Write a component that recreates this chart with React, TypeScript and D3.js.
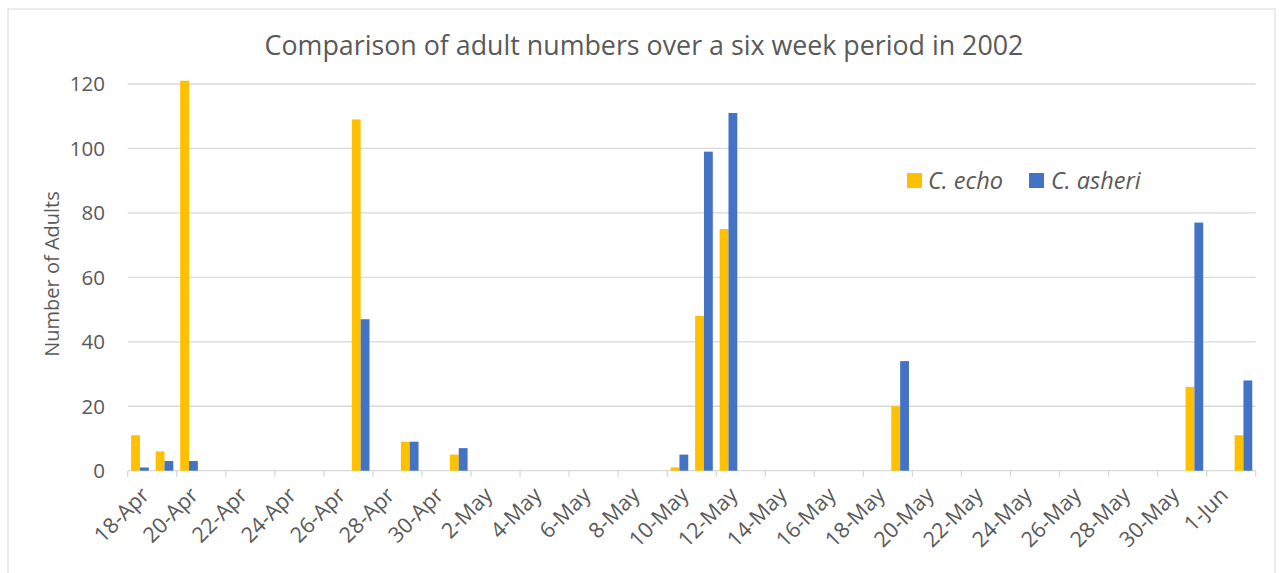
import React from "react";
import * as d3 from "d3";

const sampleDates = ["2002-04-18", "2002-04-19", "2002-04-20", "2002-04-27", "2002-04-29", "2002-05-01", "2002-05-10", "2002-05-11", "2002-05-12", "2002-05-19", "2002-05-31", "2002-06-02"];
const echoValues = [11, 6, 121, 109, 9, 5, 1, 48, 75, 20, 26, 11];
const asheriValues = [1, 3, 3, 47, 9, 7, 5, 99, 111, 34, 77, 28];
const seriesNames = ["C. echo", "C. asheri"];
const seriesColors = ["#FFC000", "#4472C4"];
const yTicks = [0, 20, 40, 60, 80, 100, 120];
const startDate = "2002-04-18";
const endDateExclusive = "2002-06-03";
const title = "Comparison of adult numbers over a six week period in 2002";
const yTitle = "Number of Adults";

const W = 1279;
const H = 573;
const FONT = "'Open Sans', 'Noto Sans', sans-serif";
const GRAY = "#595959";

export default function App() {
  const parse = d3.timeParse("%Y-%m-%d");
  const fmtKey = d3.timeFormat("%Y-%m-%d");
  const fmtLabel = d3.timeFormat("%-d-%b");
  const days = d3.timeDay.range(parse(startDate)!, parse(endDateExclusive)!);
  const dayKeys = days.map((d) => fmtKey(d));

  const x = d3.scaleBand<string>().domain(dayKeys).range([127.7, 1255.7]).padding(0);
  const y = d3.scaleLinear().domain([0, 120]).range([470.7, 84]);
  const bw = x.bandwidth();
  const groupW = bw * 0.72;
  const barW = groupW / 2;

  const tickXs = dayKeys.filter((_, i) => i % 2 === 0).map((k) => x(k)!);
  tickXs.push(x.range()[1]);
  const labelDays = days.filter((_, i) => i % 2 === 0);

  const series = [echoValues, asheriValues];

  return (
    <svg width={W} height={H} style={{ position: "absolute", left: 0, top: 0, background: "#fff" }} fontFamily={FONT}>
      <rect x={8} y={9} width={1267} height={600} fill="#fff" stroke="#d9d9d9" strokeWidth={1} />
      <text x={644} y={55} textAnchor="middle" fontSize={26.8} fill={GRAY}>{title}</text>

      {yTicks.map((t) => (
        <g key={t}>
          <line x1={127.7} x2={1255.7} y1={y(t)} y2={y(t)} stroke="#d9d9d9" strokeWidth={1.3} />
          <text x={105} y={y(t)} dy="0.36em" textAnchor="end" fontSize={20.5} fill={GRAY}>{t}</text>
        </g>
      ))}

      <text transform={`translate(52,274) rotate(-90)`} textAnchor="middle" dy="0.36em" fontSize={20} fill={GRAY}>{yTitle}</text>

      {tickXs.map((tx, i) => (
        <line key={i} x1={tx} x2={tx} y1={y(0)} y2={y(0) + 6} stroke="#d9d9d9" strokeWidth={1.3} />
      ))}

      {labelDays.map((d) => {
        const cx = x(fmtKey(d))! + bw / 2 + 5;
        const cy = 491;
        return (
          <text key={fmtKey(d)} transform={`translate(${cx},${cy}) rotate(-45)`} textAnchor="end" dy="0.36em" fontSize={21.5} fill={GRAY}>
            {fmtLabel(d)}
          </text>
        );
      })}

      {series.map((vals, si) =>
        vals.map((v, i) => {
          const k = sampleDates[i];
          const gx = x(k)! + (bw - groupW) / 2 + si * barW;
          return <rect key={`${si}-${i}`} x={gx} y={y(v)} width={barW} height={y(0) - y(v)} fill={seriesColors[si]} />;
        })
      )}

      <g>
        <rect x={907} y={173} width={15} height={15} fill={seriesColors[0]} />
        <text x={928} y={181} dy="0.36em" fontSize={23.5} fontStyle="italic" fill={GRAY}>{seriesNames[0]}</text>
        <rect x={1029} y={173} width={15} height={15} fill={seriesColors[1]} />
        <text x={1051} y={181} dy="0.36em" fontSize={23.5} fontStyle="italic" fill={GRAY}>{seriesNames[1]}</text>
      </g>
    </svg>
  );
}
